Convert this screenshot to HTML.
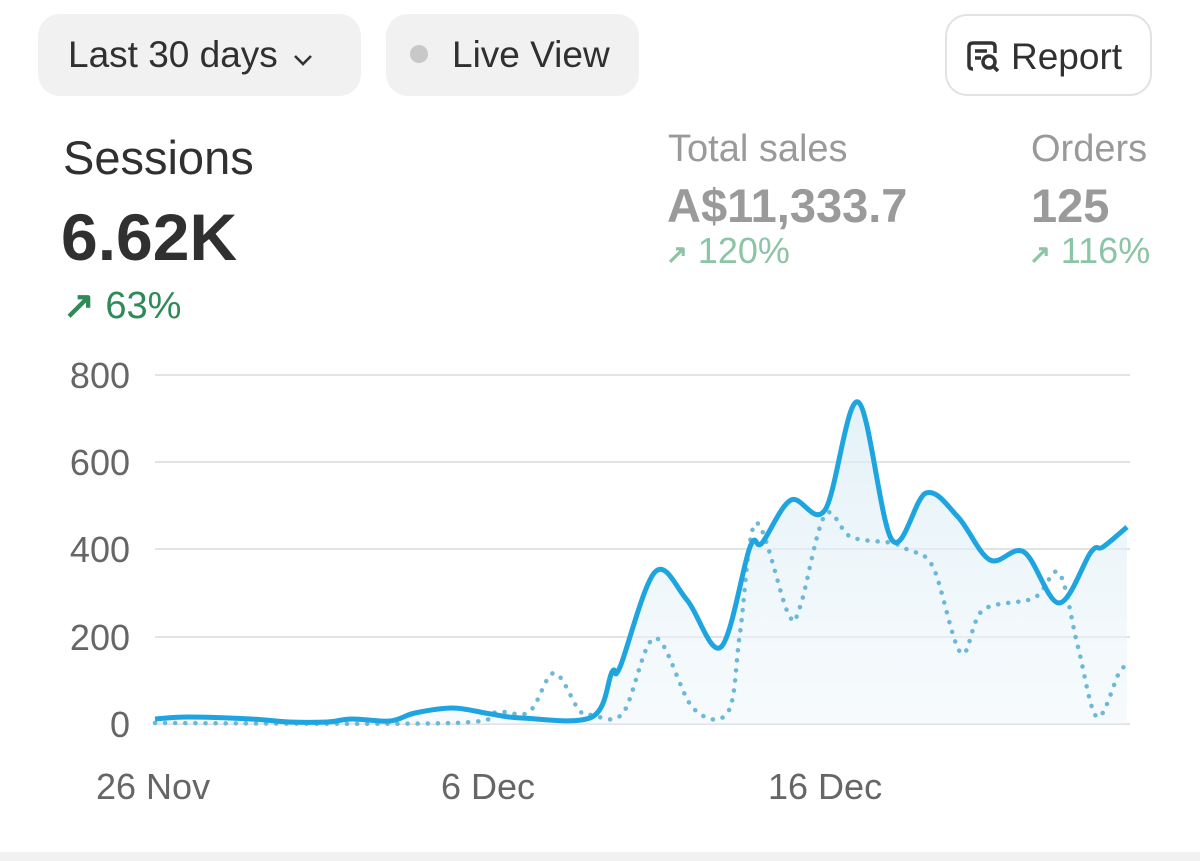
<!DOCTYPE html>
<html><head><meta charset="utf-8"><style>
body{margin:0;width:1200px;height:861px;background:#fff;font-family:"Liberation Sans",sans-serif;position:relative;overflow:hidden}
.a{position:absolute;white-space:nowrap}
.pill{position:absolute;top:14px;height:82px;border-radius:22px;background:#f1f1f1;box-sizing:border-box;font-size:37px;color:#303030;line-height:82px}
</style></head><body>
<div class="pill" style="left:38px;width:323px;padding-left:30px">Last 30 days<svg width="22" height="14" style="margin-left:14px" viewBox="0 0 22 14"><path d="M3 3 L11 11 L19 3" stroke="#333" stroke-width="2.6" fill="none"/></svg></div>
<div class="pill" style="left:386px;width:253px;padding-left:24px"><span style="display:inline-block;width:18px;height:18px;border-radius:50%;background:#c8c8c8;margin-right:24px;vertical-align:4px"></span>Live View</div>
<div class="pill" style="left:945px;width:207px;background:#fff;border:2px solid #e2e2e2;padding-left:18px"><svg width="36" height="36" viewBox="0 0 36 36" style="vertical-align:-6px;margin-right:10px"><path d="M8 30 Q4 30 4 26 V8 Q4 4 8 4 H26 Q30 4 30 8 V14" stroke="#333" stroke-width="3.5" fill="none"/><path d="M10 12h12M10 19h6" stroke="#333" stroke-width="3.5"/><circle cx="24" cy="23" r="6" stroke="#333" stroke-width="3.5" fill="none"/><path d="M28 27l5 5" stroke="#333" stroke-width="3.5"/></svg>Report</div>

<div class="a" style="left:63px;top:130px;font-size:47px;color:#303030">Sessions</div>
<div class="a" style="left:61px;top:199px;font-size:66px;font-weight:bold;color:#303030">6.62K</div>
<div class="a" style="left:63px;top:283px;font-size:38px;color:#2e8b57"><b>↗</b> 63%</div>

<div class="a" style="left:668px;top:128px;font-size:38px;color:#9a9a9a">Total sales</div>
<div class="a" style="left:667px;top:178px;font-size:47px;font-weight:bold;color:#9a9a9a">A$11,333.7</div>
<div class="a" style="left:666px;top:230px;font-size:36px;color:#8cc4a6"><span style="font-size:26px;font-weight:bold">↗</span> 120%</div>
<div class="a" style="left:1031px;top:128px;font-size:38px;color:#9a9a9a">Orders</div>
<div class="a" style="left:1031px;top:178px;font-size:47px;font-weight:bold;color:#9a9a9a">125</div>
<div class="a" style="left:1029px;top:230px;font-size:36px;color:#8cc4a6"><span style="font-size:26px;font-weight:bold">↗</span> 116%</div>

<svg class="a" style="left:0;top:0" width="1200" height="861">
<defs><linearGradient id="g" x1="0" y1="0" x2="0" y2="1"><stop offset="0" stop-color="#d8ecf5" stop-opacity="0.7"/><stop offset="1" stop-color="#eef6fa" stop-opacity="0.5"/></linearGradient></defs>
<g stroke="#e3e3e3" stroke-width="2">
<line x1="155" y1="375" x2="1130" y2="375"/><line x1="155" y1="462" x2="1130" y2="462"/><line x1="155" y1="549" x2="1130" y2="549"/><line x1="155" y1="637" x2="1130" y2="637"/><line x1="155" y1="724" x2="1130" y2="724"/>
</g>
<g font-size="36" fill="#666" text-anchor="end">
<text x="130" y="388">800</text><text x="130" y="475">600</text><text x="130" y="562">400</text><text x="130" y="650">200</text><text x="130" y="737">0</text>
</g>
<g font-size="36" fill="#666">
<text x="96" y="799">26 Nov</text><text x="441" y="799">6 Dec</text><text x="768" y="799">16 Dec</text>
</g>
<path id="fill" fill="url(#g)"/>
<path id="dot" fill="none" stroke="#6cb8d8" stroke-width="4.5" stroke-dasharray="0.1 10" stroke-linecap="round"/>
<path id="sol" fill="none" stroke="#1ea5e0" stroke-width="5" stroke-linejoin="round"/>
</svg>
<div style="position:absolute;left:0;top:852px;width:1200px;height:9px;background:#f1f1f1"></div>
<script>
function cr(p){let d="M"+p[0][0]+" "+p[0][1];for(let i=0;i<p.length-1;i++){const a=p[i-1]||p[i],b=p[i],c=p[i+1],e=p[i+2]||c;d+=" C"+(b[0]+(c[0]-a[0])/6)+" "+(b[1]+(c[1]-a[1])/6)+" "+(c[0]-(e[0]-b[0])/6)+" "+(c[1]-(e[1]-b[1])/6)+" "+c[0]+" "+c[1];}return d;}
const s=[[155,719],[188,717],[251,719],[289,722],[327,722],[352,719],[390,721],[415,713],[453,708],[491,714],[522,718],[592,717],[612,672],[620,667],[655,572],[687,600],[721,647],[750,547],[762,543],[791,500],[825,510],[858,402],[892,540],[926,493],[958,517],[990,560],[1024,552],[1059,603],[1091,552],[1103,547],[1127,527]];
const t=[[155,723],[453,723],[497,712],[529,712],[554,673],[579,710],[592,715],[623,713],[655,638],[693,708],[728,712],[740,633],[756,523],[788,613],[800,607],[825,515],[851,537],[892,543],[908,550],[933,567],[961,653],[983,610],[1034,598],[1059,573],[1078,647],[1097,717],[1119,673],[1128,665]];
const d=cr(s);
document.getElementById("sol").setAttribute("d",d);
document.getElementById("fill").setAttribute("d",d+" L1127 724 L155 724 Z");
document.getElementById("dot").setAttribute("d",cr(t));
</script>
</body></html>
